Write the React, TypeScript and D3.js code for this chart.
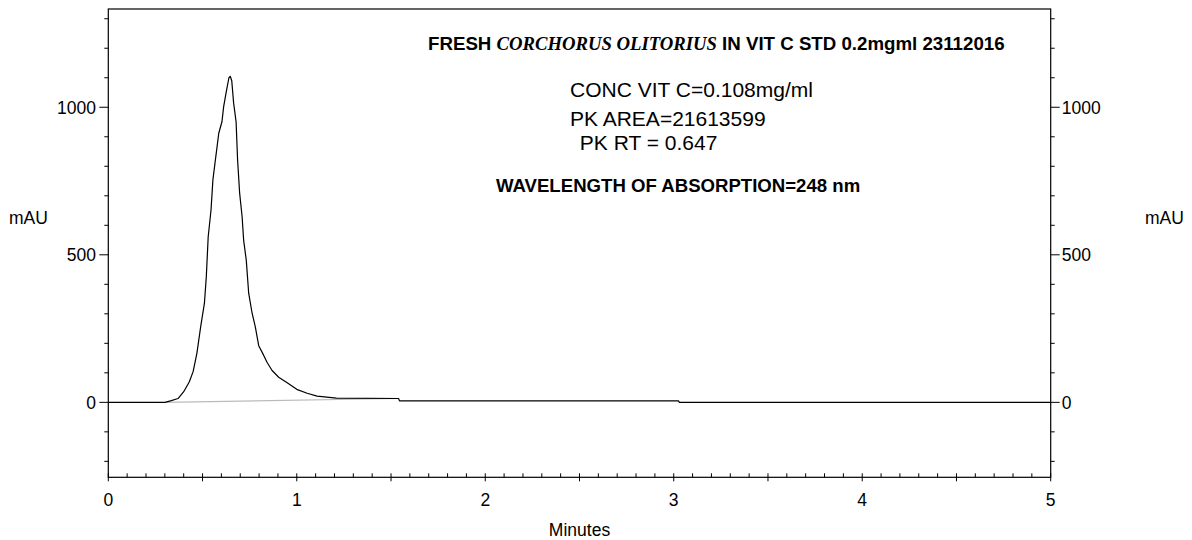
import React from "react";
import * as d3 from "d3";

// Chromatogram trace (minutes, mAU)
const times = [0, 0.30, 0.33, 0.37, 0.40, 0.43, 0.45, 0.47, 0.49, 0.51, 0.52, 0.53, 0.545, 0.555, 0.568, 0.577, 0.586, 0.603, 0.612, 0.626, 0.640, 0.647, 0.655, 0.665, 0.678, 0.686, 0.697, 0.710, 0.718, 0.732, 0.745, 0.763, 0.780, 0.798, 0.824, 0.842, 0.869, 0.904, 0.949, 1.00, 1.055, 1.108, 1.21, 1.54, 1.545, 3.025, 3.03, 5.0];
const absorbance = [0, 0, 5, 13, 36, 70, 104, 166, 256, 336, 426, 561, 652, 754, 821, 866, 912, 951, 1002, 1053, 1100, 1105, 1090, 1014, 951, 821, 708, 629, 550, 482, 369, 302, 256, 192, 160, 136, 108, 85, 66, 44, 31, 21, 14, 13, 5, 5, 0, 0];

// Integration baseline (minutes, mAU)
const baselineTimes = [0.30, 1.54];
const baselineValues = [0, 13];

const xTickValues = [0, 1, 2, 3, 4, 5];
const yTickValues = [0, 500, 1000];
const xDomain = [0, 5];
const yDomain = [-254, 1333];

const titleParts = ["FRESH ", "CORCHORUS OLITORIUS", " IN VIT C STD 0.2mgml 23112016"];
const infoLines = ["CONC VIT C=0.108mg/ml", "PK AREA=21613599", " PK RT = 0.647"];
const wavelengthText = "WAVELENGTH OF ABSORPTION=248 nm";
const xLabel = "Minutes";
const yLabel = "mAU";

const W = 1192;
const H = 540;
const L = 108.3;
const R = 1050.7;
const T = 9;
const B = 477.3;
const SANS = "'Liberation Sans', Arial, Helvetica, sans-serif";
const SERIF = "'Liberation Serif', 'Times New Roman', serif";

export default function App() {
  const x = d3.scaleLinear().domain(xDomain).range([L, R]);
  const y = d3.scaleLinear().domain(yDomain).range([B, T]);

  const pts: [number, number][] = times.map((t, i) => [t, absorbance[i]]);
  const line = d3
    .line<[number, number]>()
    .x((d) => x(d[0]))
    .y((d) => y(d[1]));
  const basePts: [number, number][] = baselineTimes.map((t, i) => [t, baselineValues[i]]);

  const xMinor = d3.range(0, 50 + 1).map((i) => i / 10);
  const yMinor = d3.range(-2, 14).map((i) => i * 100);

  return (
    <svg
      width={W}
      height={H}
      style={{ position: "absolute", left: 0, top: 0, background: "#fff" }}
      fontFamily={SANS}
    >
      <rect x={0} y={0} width={W} height={H} fill="#fff" />
      {/* frame */}
      <rect x={L} y={T} width={R - L} height={B - T} fill="none" stroke="#000" strokeWidth={1.2} />

      {/* x ticks */}
      {xMinor.map((v, i) => {
        const major = Math.abs(v * 2 - Math.round(v * 2)) < 1e-6;
        return (
          <line
            key={"xt" + i}
            x1={x(v)}
            x2={x(v)}
            y1={B - 4}
            y2={major ? B + 4 : B}
            stroke="#000"
            strokeWidth={1}
          />
        );
      })}
      {xTickValues.map((v) => (
        <text key={"xl" + v} x={x(v)} y={505.5} fontSize={17.5} textAnchor="middle" fill="#000">
          {v}
        </text>
      ))}
      <text x={(L + R) / 2} y={536} fontSize={17.5} textAnchor="middle" fill="#000">
        {xLabel}
      </text>

      {/* y ticks left and right */}
      {yMinor.map((v) => {
        const major = yTickValues.includes(v);
        return (
          <g key={"yt" + v}>
            <line x1={L - (major ? 9 : 4)} x2={L} y1={y(v)} y2={y(v)} stroke="#000" strokeWidth={1} />
            <line x1={R} x2={R + (major ? 9 : 4)} y1={y(v)} y2={y(v)} stroke="#000" strokeWidth={1} />
          </g>
        );
      })}
      {yTickValues.map((v) => (
        <g key={"yl" + v}>
          <text x={96} y={y(v)} dy="0.36em" fontSize={17.5} textAnchor="end" fill="#000">
            {v}
          </text>
          <text x={R + 11} y={y(v)} dy="0.36em" fontSize={17.5} textAnchor="start" fill="#000">
            {v}
          </text>
        </g>
      ))}
      <text x={9} y={218} dy="0.36em" fontSize={17.5} fill="#000">
        {yLabel}
      </text>
      <text x={1145} y={218} dy="0.36em" fontSize={17.5} fill="#000">
        {yLabel}
      </text>

      {/* baseline */}
      <path d={line(basePts) || ""} fill="none" stroke="#bbb" strokeWidth={1.2} />
      {/* trace */}
      <path d={line(pts) || ""} fill="none" stroke="#000" strokeWidth={1.2} strokeLinejoin="round" />

      {/* annotations */}
      <text x={428} y={50} fontSize={18.7} fontWeight="bold" fill="#000">
        <tspan>{titleParts[0]}</tspan>
        <tspan fontFamily={SERIF} fontStyle="italic">{titleParts[1]}</tspan>
        <tspan>{titleParts[2]}</tspan>
      </text>
      <text x={570} y={97} fontSize={21} fill="#000">{infoLines[0]}</text>
      <text x={570} y={126} fontSize={21} fill="#000">{infoLines[1]}</text>
      <text x={574} y={150} fontSize={21} fill="#000" style={{ whiteSpace: "pre" }}>{infoLines[2]}</text>
      <text x={496} y={192} fontSize={18.6} fontWeight="bold" fill="#000">{wavelengthText}</text>
    </svg>
  );
}
